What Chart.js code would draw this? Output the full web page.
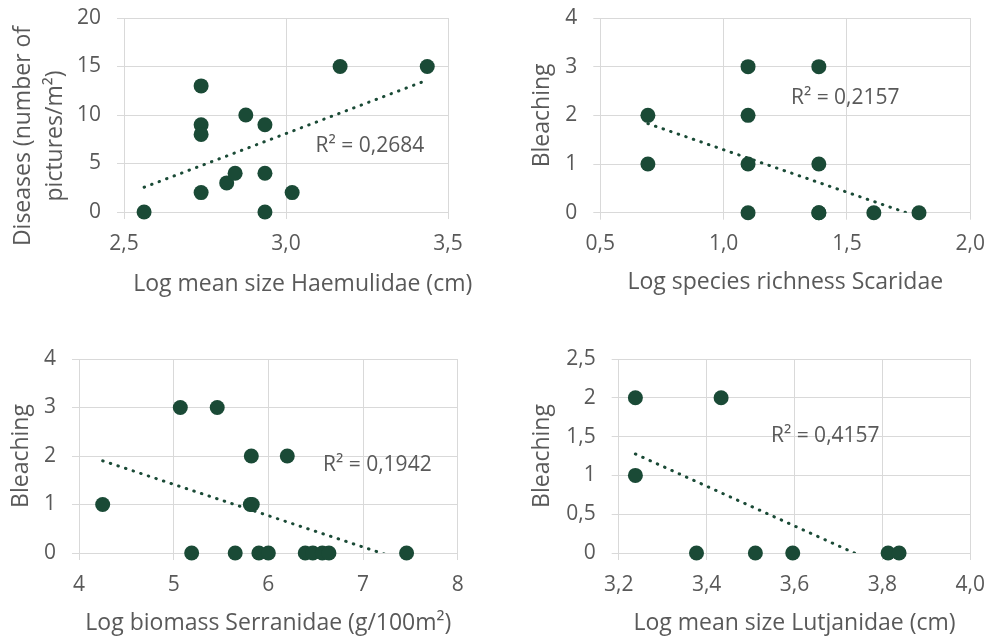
<!DOCTYPE html>
<html><head><meta charset="utf-8">
<script src="https://cdn.jsdelivr.net/npm/chart.js@4"></script>
<style>
html,body{margin:0;padding:0;background:#fff;}
#wrap{position:relative;width:986px;height:638px;overflow:hidden;}
.p{position:absolute;width:493px;height:319px;}
canvas{display:block;}
</style></head><body>
<div id="wrap">
<div class="p" style="left:0;top:0"><canvas id="c1" width="493" height="319"></canvas></div>
<div class="p" style="left:493px;top:0"><canvas id="c2" width="493" height="319"></canvas></div>
<div class="p" style="left:0;top:319px"><canvas id="c3" width="493" height="319"></canvas></div>
<div class="p" style="left:493px;top:319px"><canvas id="c4" width="493" height="319"></canvas></div>
</div>
<script>
// ---------- DATA ----------
// Panel 1: Diseases vs log mean size Haemulidae
const haemulidaeSize = [2.562, 2.738, 2.738, 2.738, 2.738, 2.817, 2.843, 2.876, 2.935, 2.935, 2.935, 3.019, 3.167, 3.436];
const diseases       = [0,     13,    9,     8,     2,     3,     4,     10,    9,     4,     0,     2,     15,    15];
const diseasesTrendX = [2.562, 3.436];
const diseasesTrendY = [2.55, 13.6];
const diseasesR2 = 'R² = 0,2684';

// Panel 2: Bleaching vs log species richness Scaridae
const scaridaeRichness   = [0.693, 0.693, 1.099, 1.099, 1.099, 1.099, 1.386, 1.386, 1.386, 1.386, 1.609, 1.792];
const bleachingScaridae  = [2,     1,     3,     2,     1,     0,     3,     1,     0,     0,     0,     0];
const scaridaeTrendX = [0.693, 1.792];
const scaridaeTrendY = [1.83, -0.09];
const scaridaeR2 = 'R² = 0,2157';

// Panel 3: Bleaching vs log biomass Serranidae
const serranidaeBiomass   = [4.25, 5.07, 5.46, 5.82, 6.20, 5.81, 5.83, 5.19, 5.65, 5.90, 6.00, 6.39, 6.47, 6.57, 6.64, 7.46];
const bleachingSerranidae = [1,    3,    3,    2,    2,    1,    1,    0,    0,    0,    0,    0,    0,    0,    0,    0];
const serranidaeTrendX = [4.25, 7.46];
const serranidaeTrendY = [1.90, -0.174];
const serranidaeR2 = 'R² = 0,1942';

// Panel 4: Bleaching vs log mean size Lutjanidae
const lutjanidaeSize      = [3.238, 3.238, 3.433, 3.377, 3.511, 3.596, 3.813, 3.838];
const bleachingLutjanidae = [2,     1,     2,     0,     0,     0,     0,     0];
const lutjanidaeTrendX = [3.238, 3.838];
const lutjanidaeTrendY = [1.276, -0.261];
const lutjanidaeR2 = 'R² = 0,4157';

// Tick values and labels
const xTicks1 = [2.5, 3.0, 3.5],            xLabels1 = ['2,5', '3,0', '3,5'];
const yTicks1 = [0, 5, 10, 15, 20],         yLabels1 = ['0', '5', '10', '15', '20'];
const xTicks2 = [0.5, 1.0, 1.5, 2.0],       xLabels2 = ['0,5', '1,0', '1,5', '2,0'];
const yTicks2 = [0, 1, 2, 3, 4],            yLabels2 = ['0', '1', '2', '3', '4'];
const xTicks3 = [4, 5, 6, 7, 8],            xLabels3 = ['4', '5', '6', '7', '8'];
const yTicks3 = [0, 1, 2, 3, 4],            yLabels3 = ['0', '1', '2', '3', '4'];
const xTicks4 = [3.2, 3.4, 3.6, 3.8, 4.0],  xLabels4 = ['3,2', '3,4', '3,6', '3,8', '4,0'];
const yTicks4 = [0, 0.5, 1, 1.5, 2, 2.5],   yLabels4 = ['0', '0,5', '1', '1,5', '2', '2,5'];

// ---------- STYLE ----------
const FONT = '"Open Sans"';
const TXT = '#595959';
const GRID = '#d9d9d9';
const GREEN = '#1a4a36';
const TICK_SIZE = 21, TITLE_SIZE = 23, R2_SIZE = 21;
Chart.defaults.font.family = FONT;

const textPlugin = {
  id: 'extraText',
  afterDatasetsDraw(chart, args, opts) {
    const ctx = chart.ctx;
    (opts.items || []).forEach(it => {
      ctx.save();
      ctx.font = (it.size || 20) + 'px ' + FONT;
      ctx.fillStyle = TXT;
      let x = it.x, y = it.y;
      if (it.data) {
        x = chart.scales.x.getPixelForValue(it.x);
        y = chart.scales.y.getPixelForValue(it.y);
      }
      ctx.translate(x, y);
      if (it.rotate) ctx.rotate(it.rotate);
      ctx.textAlign = 'center';
      ctx.textBaseline = it.baseline || 'middle';
      ctx.fillText(it.text, 0, 0);
      ctx.restore();
    });
  }
};

function zip(xs, ys) { return xs.map((x, i) => ({x: x, y: ys[i]})); }

function makeChart(id, c) {
  const lab = (vals, labels) => (v) => { const i = vals.findIndex(t => Math.abs(t - v) < 1e-9); return i >= 0 ? labels[i] : ''; };
  new Chart(document.getElementById(id), {
    type: 'scatter',
    data: {
      datasets: [
        { type: 'line', data: zip(c.tx, c.ty), borderColor: GREEN, borderWidth: 3,
          borderDash: [0.5, 7.5], borderCapStyle: 'round', pointRadius: 0, fill: false, clip: 0, order: 0 },
        { type: 'scatter', data: zip(c.x, c.y), pointRadius: 7.5, pointHoverRadius: 7.5,
          backgroundColor: GREEN, borderColor: GREEN, borderWidth: 0, clip: false, order: 1 }
      ]
    },
    options: {
      responsive: false, animation: false, devicePixelRatio: 1,
      layout: { padding: c.pad },
      plugins: {
        legend: { display: false }, tooltip: { enabled: false },
        extraText: { items: c.texts }
      },
      scales: {
        x: {
          type: 'linear', min: c.xTicks[0], max: c.xTicks[c.xTicks.length - 1],
          afterBuildTicks: s => { s.ticks = c.xTicks.map(v => ({value: v})); },
          afterFit: s => { s.height = c.xH; s.paddingLeft = 0; s.paddingRight = 0; },
          grid: { color: GRID, lineWidth: 1, tickLength: 7, drawTicks: true },
          border: { color: GRID, width: 1 },
          ticks: { padding: 12, color: TXT, font: { size: TICK_SIZE, family: FONT }, maxRotation: 0, autoSkip: false,
                   callback: lab(c.xTicks, c.xLabels) },
          title: { display: !!c.xTitle, text: c.xTitle, color: TXT, font: { size: TITLE_SIZE, family: FONT }, padding: 0 }
        },
        y: {
          type: 'linear', min: c.yTicks[0], max: c.yTicks[c.yTicks.length - 1],
          afterBuildTicks: s => { s.ticks = c.yTicks.map(v => ({value: v})); },
          afterFit: s => { s.width = c.yW; s.paddingTop = 0; s.paddingBottom = 0; },
          grid: { color: GRID, lineWidth: 1, tickLength: 7, drawTicks: true },
          border: { color: GRID, width: 1 },
          ticks: { padding: 16, color: TXT, font: { size: TICK_SIZE, family: FONT }, autoSkip: false,
                   callback: lab(c.yTicks, c.yLabels) },
          title: { display: !!c.yTitle, text: c.yTitle, color: TXT, font: { size: TITLE_SIZE, family: FONT }, padding: 0 }
        }
      }
    },
    plugins: [textPlugin]
  });
}

makeChart('c1', {
  x: haemulidaeSize, y: diseases, tx: diseasesTrendX, ty: diseasesTrendY,
  xTicks: xTicks1, xLabels: xLabels1, yTicks: yTicks1, yLabels: yLabels1,
  xTitle: '', yTitle: '',
  pad: { left: 0, top: 18, right: 45, bottom: 24 }, yW: 124, xH: 83,
  texts: [
    { text: diseasesR2, data: true, x: 3.259, y: 6.8, size: R2_SIZE },
    { text: 'Log mean size Haemulidae (cm)', x: 302.7, y: 290.7, baseline: 'alphabetic', size: TITLE_SIZE },
    { text: 'Diseases (number of', x: 29.5, y: 136, rotate: -Math.PI / 2, baseline: 'alphabetic', size: TITLE_SIZE },
    { text: 'pictures/m²)', x: 62, y: 136, rotate: -Math.PI / 2, baseline: 'alphabetic', size: TITLE_SIZE }
  ]
});

makeChart('c2', {
  x: scaridaeRichness, y: bleachingScaridae, tx: scaridaeTrendX, ty: scaridaeTrendY,
  xTicks: xTicks2, xLabels: xLabels2, yTicks: yTicks2, yLabels: yLabels2,
  xTitle: 'Log species richness Scaridae', yTitle: 'Bleaching',
  pad: { left: 35.5, top: 18, right: 15.7, bottom: 22.6 }, yW: 71.8, xH: 83.7,
  texts: [ { text: scaridaeR2, data: true, x: 1.493, y: 2.36, size: R2_SIZE } ]
});

makeChart('c3', {
  x: serranidaeBiomass, y: bleachingSerranidae, tx: serranidaeTrendX, ty: serranidaeTrendY,
  xTicks: xTicks3, xLabels: xLabels3, yTicks: yTicks3, yLabels: yLabels3,
  xTitle: 'Log biomass Serranidae (g/100m²)', yTitle: 'Bleaching',
  pad: { left: 7.2, top: 40, right: 35.3, bottom: 1.2 }, yW: 71.8, xH: 83.8,
  texts: [ { text: serranidaeR2, data: true, x: 7.151, y: 1.82, size: R2_SIZE } ]
});

makeChart('c4', {
  x: lutjanidaeSize, y: bleachingLutjanidae, tx: lutjanidaeTrendX, ty: lutjanidaeTrendY,
  xTicks: xTicks4, xLabels: xLabels4, yTicks: yTicks4, yLabels: yLabels4,
  xTitle: 'Log mean size Lutjanidae (cm)', yTitle: 'Bleaching',
  pad: { left: 35.5, top: 40, right: 15.7, bottom: 1.2 }, yW: 90.2, xH: 83.8,
  texts: [ { text: lutjanidaeR2, data: true, x: 3.67, y: 1.51, size: R2_SIZE } ]
});
</script>
</body></html>
